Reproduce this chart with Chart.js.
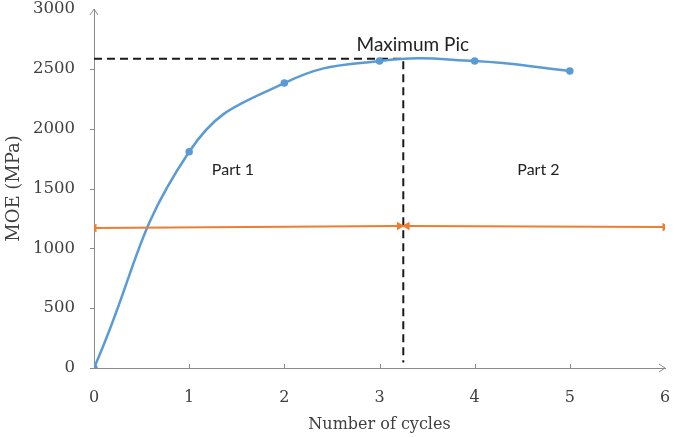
<!DOCTYPE html>
<html>
<head>
<meta charset="utf-8">
<script src="https://cdn.jsdelivr.net/npm/chart.js@4"></script>
<style>
  html, body { margin: 0; padding: 0; background: #fff; }
  #wrap { width: 676px; height: 438px; }
</style>
</head>
<body>
<div id="wrap"><canvas id="chart" width="676" height="438"></canvas></div>
<script>
// blue curve
const cycles = [0, 1, 2, 3, 4, 5];
const moeValues = [0, 1807, 2381, 2565, 2565, 2482];

// orange arrows (part 1 / part 2)
const part1X = [0, 3.21];
const part1Y = [1170, 1187];
const part2X = [3.29, 6];
const part2Y = [1187, 1178];

// dashed "maximum" guide
const maxX = [0, 3.25, 3.25];
const maxY = [2585, 2585, 45];

// axis ticks
const xTicks = [0, 1, 2, 3, 4, 5, 6];
const yTicks = [0, 500, 1000, 1500, 2000, 2500, 3000];

// labels
const notes = [
    { text: 'Maximum Pic', x: 3.35, y: 2700, size: 19 },
    { text: 'Part 1', x: 1.46, y: 1660, size: 16 },
    { text: 'Part 2', x: 4.67, y: 1660, size: 16 }
];

const toPoints = (xs, ys) => xs.map((x, i) => ({ x: x, y: ys[i] }));

const serif = '"DejaVu Serif", "Liberation Serif", serif';
const sans = 'Lato, "Open Sans", sans-serif';
const axisColor = '#8a8a8a';
const textColor = '#404040';

// axis arrows, tick marks and text notes
const extras = {
    id: 'extras',
    afterDatasetsDraw(chart) {
        const ctx = chart.ctx;
        const xs = chart.scales.x;
        const ys = chart.scales.y;
        const x0 = xs.getPixelForValue(0);
        const y0 = ys.getPixelForValue(0);
        const xEnd = xs.getPixelForValue(6);
        const yTop = ys.getPixelForValue(3000);

        ctx.save();
        ctx.strokeStyle = axisColor;
        ctx.lineWidth = 1;
        ctx.beginPath();
        // arrow heads
        ctx.moveTo(x0 - 4, yTop + 6);
        ctx.lineTo(x0, yTop);
        ctx.lineTo(x0 + 4, yTop + 6);
        ctx.moveTo(xEnd - 6, y0 - 4);
        ctx.lineTo(xEnd, y0);
        ctx.lineTo(xEnd - 6, y0 + 4);
        // tick marks
        yTicks.slice(0, -1).forEach(v => {
            const py = Math.round(ys.getPixelForValue(v)) + 0.5;
            ctx.moveTo(x0 - 4, py);
            ctx.lineTo(x0, py);
        });
        xTicks.slice(1, -1).forEach(v => {
            const px = Math.round(xs.getPixelForValue(v)) + 0.5;
            ctx.moveTo(px, y0);
            ctx.lineTo(px, y0 - 4);
        });
        ctx.stroke();

        ctx.fillStyle = '#222';
        ctx.textAlign = 'center';
        ctx.textBaseline = 'middle';
        notes.forEach(n => {
            ctx.font = n.size + 'px ' + sans;
            ctx.fillText(n.text, xs.getPixelForValue(n.x), ys.getPixelForValue(n.y));
        });
        ctx.restore();
    }
};

new Chart(document.getElementById('chart'), {
    type: 'line',
    data: {
        datasets: [
            {
                data: toPoints(part1X, part1Y),
                borderColor: '#ed7d31',
                backgroundColor: '#ed7d31',
                borderWidth: 2,
                pointStyle: 'triangle',
                pointRadius: 3,
                rotation: [270, 90],
                tension: 0
            },
            {
                data: toPoints(part2X, part2Y),
                borderColor: '#ed7d31',
                backgroundColor: '#ed7d31',
                borderWidth: 2,
                pointStyle: 'triangle',
                pointRadius: 3,
                rotation: [270, 90],
                tension: 0
            },
            {
                data: toPoints(cycles, moeValues),
                borderColor: '#5b9bd5',
                backgroundColor: '#5b9bd5',
                borderWidth: 2.5,
                pointRadius: 2.5,
                tension: 0.45
            },
            {
                data: toPoints(maxX, maxY),
                borderColor: '#1a1a1a',
                borderWidth: 2,
                borderDash: [8, 5],
                pointRadius: 0,
                tension: 0
            }
        ]
    },
    options: {
        responsive: false,
        animation: false,
        layout: { padding: { left: 0, right: 11, top: 9, bottom: 0 } },
        plugins: {
            legend: { display: false },
            tooltip: { enabled: false }
        },
        scales: {
            x: {
                type: 'linear',
                min: 0,
                max: 6,
                afterFit: s => { s.height = 70; },
                afterBuildTicks: s => { s.ticks = xTicks.map(v => ({ value: v })); },
                ticks: {
                    color: textColor,
                    font: { family: serif, size: 16, lineHeight: 1 },
                    padding: 3
                },
                grid: { drawOnChartArea: false, tickLength: 19, tickColor: 'transparent' },
                border: { color: axisColor },
                title: {
                    display: true,
                    text: 'Number of cycles',
                    color: textColor,
                    font: { family: serif, size: 16 },
                    padding: { top: 4, bottom: 4 }
                }
            },
            y: {
                min: 0,
                max: 3000,
                afterFit: s => { s.width = 94; },
                afterBuildTicks: s => { s.ticks = yTicks.map(v => ({ value: v })); },
                ticks: {
                    color: textColor,
                    font: { family: serif, size: 16.5, lineHeight: 1 },
                    padding: 0,
                    callback: v => String(v)
                },
                grid: { drawOnChartArea: false, tickLength: 19, tickColor: 'transparent' },
                border: { color: axisColor },
                title: {
                    display: true,
                    text: 'MOE (MPa)',
                    color: textColor,
                    font: { family: serif, size: 18 },
                    padding: { top: 4, bottom: 0 }
                }
            }
        }
    },
    plugins: [extras]
});
</script>
</body>
</html>
